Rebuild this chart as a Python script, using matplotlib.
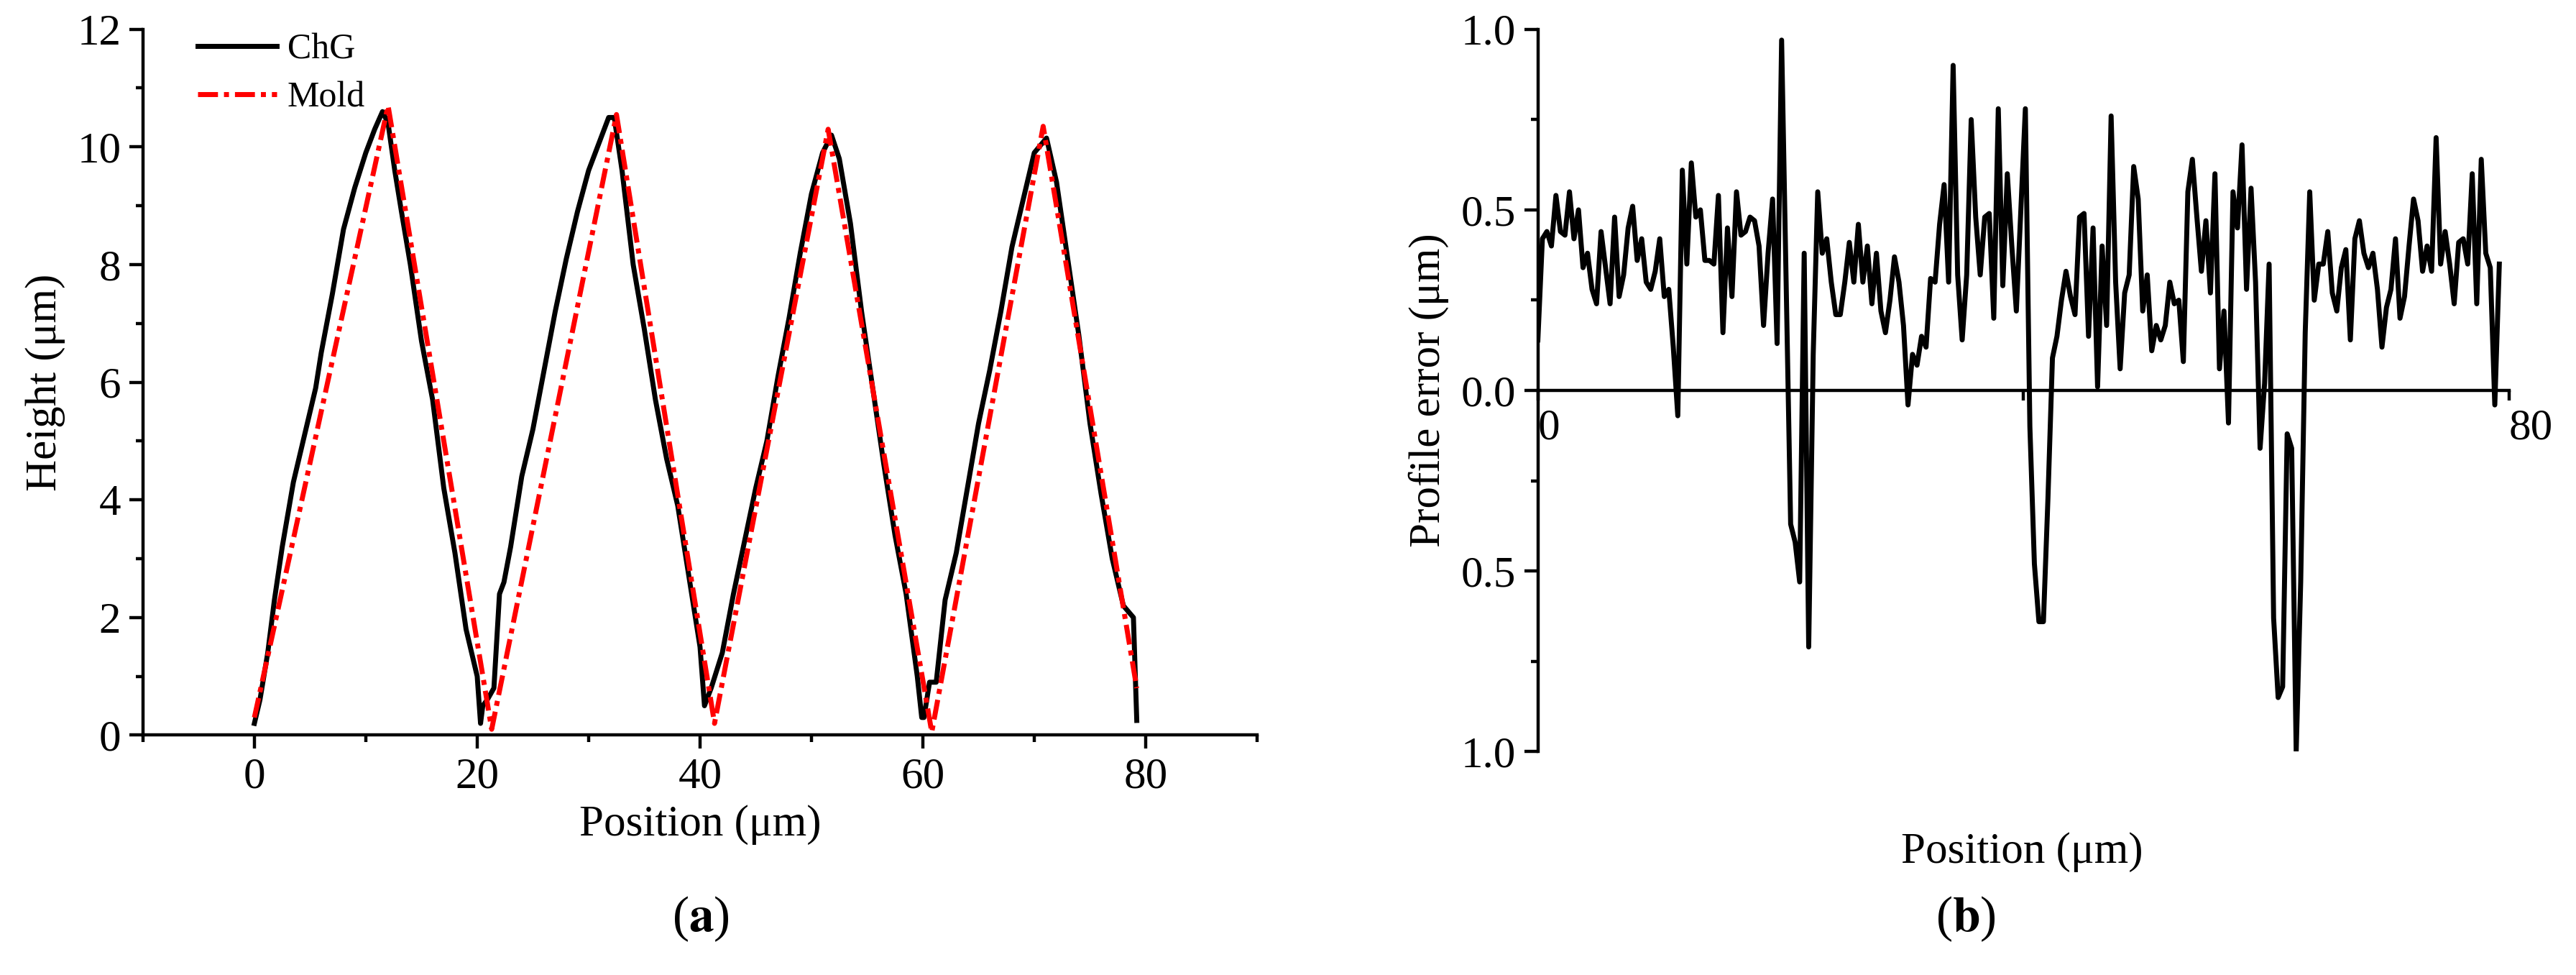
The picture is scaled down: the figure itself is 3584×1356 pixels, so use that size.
import numpy as np
import matplotlib
matplotlib.use("Agg")
import matplotlib.pyplot as plt
from matplotlib.ticker import MultipleLocator, FixedLocator, FixedFormatter

plt.rcParams['font.family'] = ['Liberation Serif', 'DejaVu Serif']
plt.rcParams['mathtext.fontset'] = 'stix'

# ---- panel (a) data ----
chg_x = [0.0, 0.5, 1.2, 1.8, 2.5, 3.5, 4.5, 5.5, 6.0, 7.0, 8.0, 9.0, 10.0, 10.8, 11.5, 12.0, 12.6, 13.2, 14.0, 15.0, 16.0,
         17.0, 18.0, 19.0, 20.0, 20.3, 20.5, 20.9, 21.5, 22.0, 22.4, 23.0, 24.0, 25.0, 26.0, 27.0, 28.0, 29.0, 30.0,
         31.0, 31.8, 32.3, 33.0, 34.0, 35.0, 36.0, 37.0, 38.0, 39.0, 40.0, 40.4, 41.0, 42.0, 43.0, 44.0, 45.0, 46.0,
         47.0, 48.0, 49.0, 50.0, 51.0, 51.8, 52.5, 53.5, 54.5, 55.5, 56.5, 57.5, 58.5, 59.5, 59.9, 60.1, 60.6, 61.2,
         62.0, 63.0, 64.0, 65.0, 66.0, 67.0, 68.0, 69.0, 70.0, 71.1, 72.0, 73.0, 74.0, 75.0, 76.0, 77.0, 78.0, 78.9, 79.2]
chg_y = [0.2, 0.6, 1.4, 2.3, 3.2, 4.3, 5.1, 5.9, 6.5, 7.5, 8.6, 9.3, 9.9, 10.3, 10.6, 10.4, 9.6, 8.9, 8.0, 6.7, 5.7,
         4.2, 3.1, 1.8, 1.0, 0.2, 0.5, 0.6, 0.8, 2.4, 2.6, 3.2, 4.4, 5.2, 6.2, 7.2, 8.1, 8.9, 9.6,
         10.1, 10.5, 10.5, 9.6, 8.0, 6.9, 5.7, 4.7, 3.9, 2.7, 1.5, 0.5, 0.8, 1.4, 2.4, 3.3, 4.2, 5.0,
         6.1, 7.1, 8.2, 9.2, 9.9, 10.2, 9.8, 8.7, 7.2, 5.9, 4.6, 3.4, 2.4, 1.0, 0.3, 0.3, 0.9, 0.9,
         2.3, 3.1, 4.2, 5.3, 6.2, 7.2, 8.3, 9.1, 9.9, 10.15, 9.4, 8.1, 6.8, 5.3, 4.1, 3.0, 2.2, 2.0, 0.25]
mold_x = [0.0, 12.0, 21.3, 32.5, 41.3, 51.5, 60.8, 70.8, 79.2]
mold_y = [0.3, 10.7, 0.1, 10.55, 0.2, 10.3, 0.05, 10.35, 0.8]

# ---- panel (b) data ----
err = [0.14, 0.42, 0.44, 0.40, 0.54, 0.44, 0.43, 0.55, 0.42, 0.50, 0.34, 0.38, 0.28, 0.24, 0.44, 0.34, 0.24, 0.48,
       0.26, 0.32, 0.45, 0.51, 0.36, 0.42, 0.30, 0.28, 0.33, 0.42, 0.26, 0.28, 0.12, -0.07, 0.61, 0.35, 0.63, 0.48,
       0.50, 0.36, 0.36, 0.35, 0.54, 0.16, 0.45, 0.26, 0.55, 0.43, 0.44, 0.48, 0.47, 0.40, 0.18, 0.38, 0.53, 0.13,
       0.97, 0.30, -0.37, -0.42, -0.53, 0.38, -0.71, 0.10, 0.55, 0.38, 0.42, 0.30, 0.21, 0.21, 0.30, 0.41, 0.30,
       0.46, 0.30, 0.40, 0.24, 0.38, 0.22, 0.16, 0.25, 0.37, 0.30, 0.18, -0.04, 0.10, 0.07, 0.15, 0.12, 0.31, 0.30,
       0.46, 0.57, 0.30, 0.90, 0.32, 0.14, 0.32, 0.75, 0.48, 0.32, 0.48, 0.49, 0.20, 0.78, 0.29, 0.60, 0.40, 0.22,
       0.50, 0.78, -0.10, -0.48, -0.64, -0.64, -0.30, 0.09, 0.15, 0.25, 0.33, 0.26, 0.21, 0.48, 0.49, 0.15, 0.45,
       0.01, 0.40, 0.18, 0.76, 0.30, 0.06, 0.27, 0.32, 0.62, 0.53, 0.22, 0.32, 0.11, 0.18, 0.14, 0.18, 0.30, 0.24,
       0.25, 0.08, 0.55, 0.64, 0.48, 0.33, 0.47, 0.27, 0.60, 0.06, 0.22, -0.09, 0.55, 0.45, 0.68, 0.28, 0.56, 0.30,
       -0.16, 0.02, 0.35, -0.63, -0.85, -0.82, -0.12, -0.16, -1.00, -0.53, 0.16, 0.55, 0.25, 0.35, 0.35, 0.44, 0.27,
       0.22, 0.34, 0.39, 0.14, 0.42, 0.47, 0.38, 0.34, 0.38, 0.28, 0.12, 0.23, 0.28, 0.42, 0.20, 0.26, 0.40, 0.53,
       0.47, 0.33, 0.40, 0.33, 0.70, 0.35, 0.44, 0.35, 0.24, 0.41, 0.42, 0.35, 0.60, 0.24, 0.64, 0.38, 0.34, -0.04, 0.35]
err_x = np.linspace(0, 79.2, len(err))
y_tick_labels_b = ["1.0", "0.5", "0.0", "0.5", "1.0"]

FS = 44
LW_SP = 3.2
fig = plt.figure(figsize=(35.84, 13.56), dpi=100)

# ---- (a) ----
ax = fig.add_axes([0.0555, 0.246, 0.4325, 0.724])
ax.plot(chg_x, chg_y, color='black', lw=5, label='ChG', zorder=2)
ax.plot(mold_x, mold_y, color='red', lw=5, ls=(0, (4, 1.2, 1, 1.2)), label='Mold', zorder=3)
ax.set_xlim(-10, 90)
ax.set_ylim(0, 12)
ax.xaxis.set_major_locator(MultipleLocator(20))
ax.xaxis.set_minor_locator(MultipleLocator(10))
ax.yaxis.set_major_locator(MultipleLocator(2))
ax.yaxis.set_minor_locator(MultipleLocator(1))
for s in ['top', 'right']:
    ax.spines[s].set_visible(False)
for s in ['left', 'bottom']:
    ax.spines[s].set_linewidth(LW_SP)
ax.tick_params(which='major', direction='out', length=14, width=LW_SP, labelsize=FS, pad=8)
ax.tick_params(which='minor', direction='out', length=7, width=LW_SP)
ax.set_xlabel('Position (μm)', fontsize=FS, labelpad=8)
ax.set_ylabel('Height (μm)', fontsize=FS, labelpad=12)
ax.legend(loc='upper left', bbox_to_anchor=(0.02, 1.04), frameon=False, fontsize=36,
          handlelength=2.2, handletextpad=0.3, labelspacing=0.4)
fig.text(0.272, 0.045, r'($\mathbf{a}$)', ha='center', fontsize=50)

# ---- (b) ----
bx = fig.add_axes([0.597, 0.229, 0.377, 0.741])
bx.plot(err_x, err, color='black', lw=5)
bx.set_xlim(0, 80)
bx.set_ylim(-1.0, 1.0)
bx.spines['bottom'].set_position(('data', 0))
for s in ['top', 'right']:
    bx.spines[s].set_visible(False)
for s in ['left', 'bottom']:
    bx.spines[s].set_linewidth(LW_SP)
bx.xaxis.set_major_locator(FixedLocator([0, 40, 80]))
bx.xaxis.set_major_formatter(FixedFormatter(['0', '', '80']))
bx.yaxis.set_major_locator(FixedLocator([1.0, 0.5, 0.0, -0.5, -1.0]))
bx.yaxis.set_major_formatter(FixedFormatter(y_tick_labels_b[::-1]))
bx.yaxis.set_minor_locator(MultipleLocator(0.25))
bx.tick_params(which='major', direction='out', length=14, width=LW_SP, labelsize=FS, pad=8)
bx.tick_params(which='minor', direction='out', length=7, width=LW_SP)
bx.tick_params(axis='x', length=10)
for lbl in bx.get_xticklabels():
    lbl.set_horizontalalignment('left')
bx.set_ylabel('Profile error (μm)', fontsize=FS, labelpad=12)
fig.text(0.785, 0.115, 'Position (μm)', ha='center', fontsize=FS)
fig.text(0.763, 0.045, r'($\mathbf{b}$)', ha='center', fontsize=50)

fig.savefig('out.png', dpi=100)
